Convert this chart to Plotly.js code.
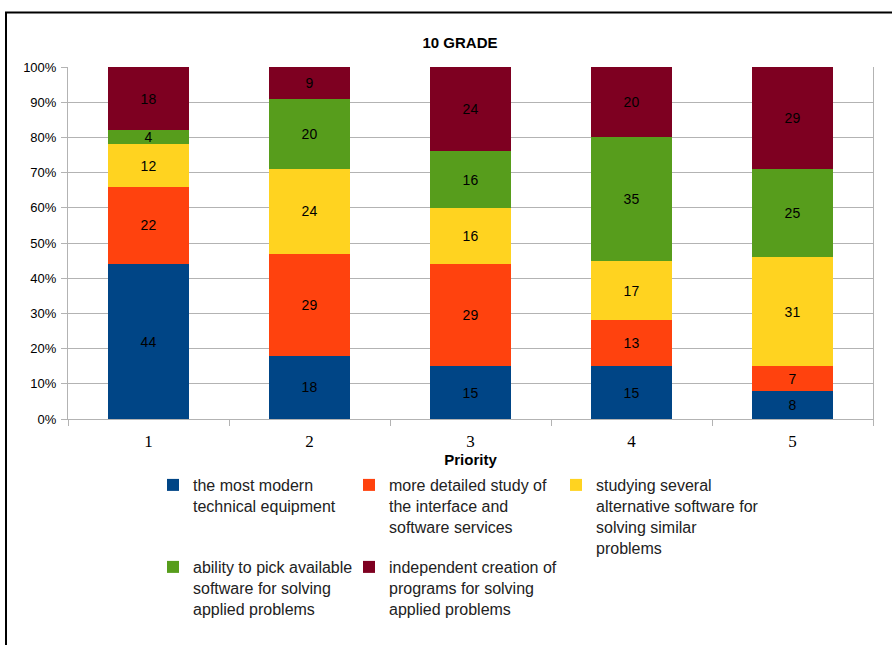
<!DOCTYPE html>
<html>
<head>
<meta charset="utf-8">
<script src="https://cdn.plot.ly/plotly-3.0.1.min.js"></script>
<style>html,body{margin:0;padding:0;background:#fff;}#chart{width:892px;height:645px;}</style>
</head>
<body>
<div id="chart"></div>
<script>
var categories = ['1', '2', '3', '4', '5'];
var seriesNames = [
  'the most modern<br>technical equipment',
  'more detailed study of<br>the interface and<br>software services',
  'studying several<br>alternative software for<br>solving similar<br>problems',
  'ability to pick available<br>software for solving<br>applied problems',
  'independent creation of<br>programs for solving<br>applied problems'
];
var modernEquipment = [44, 18, 15, 15, 8];
var detailedStudy = [22, 29, 29, 13, 7];
var severalSoftware = [12, 24, 16, 17, 31];
var pickSoftware = [4, 20, 16, 35, 25];
var independentCreation = [18, 9, 24, 20, 29];
var seriesValues = [modernEquipment, detailedStudy, severalSoftware, pickSoftware, independentCreation];
var colors = ['#004586', '#ff420e', '#ffd320', '#579d1c', '#7e0021'];
var legendRefs = ['legend', 'legend2', 'legend3', 'legend4', 'legend5'];

var traces = seriesValues.map(function(vals, i) {
  return {
    type: 'bar',
    x: categories,
    y: vals,
    name: seriesNames[i],
    showlegend: true,
    marker: {color: colors[i], line: {width: 0}},
    text: vals.map(String),
    textposition: 'inside',
    insidetextanchor: 'middle',
    textangle: 0,
    constraintext: 'none',
    textfont: {family: 'Liberation Sans, Arial, sans-serif', size: 14, color: '#000'},
    legend: legendRefs[i],
    hoverinfo: 'x+y+name'
  };
});

var L = 68, R = 873, T = 67, B = 419;
function px2x(p) { return (p - L) / (R - L); }
function px2y(p) { return (B - p) / (B - T); }

var legendFont = {family: 'Liberation Sans, Arial, sans-serif', size: 16, color: '#222'};
function makeLegend(leftPx, topPx) {
  return {
    visible: true,
    orientation: 'v',
    x: px2x(leftPx), xanchor: 'left',
    y: px2y(topPx), yanchor: 'top',
    valign: 'top',
    font: legendFont,
    bgcolor: 'rgba(0,0,0,0)',
    borderwidth: 0
  };
}

var layout = {
  width: 892,
  height: 645,
  showlegend: true,
  margin: {l: L, r: 892 - R, t: T, b: 645 - B},
  paper_bgcolor: '#fff',
  plot_bgcolor: '#fff',
  barmode: 'stack',
  bargap: 0.5,
  uniformtext: {minsize: 14, mode: 'show'},
  title: {
    text: '<b>10 GRADE</b>',
    font: {family: 'Liberation Sans, Arial, sans-serif', size: 15, color: '#000'},
    x: 460 / 892, xref: 'container', xanchor: 'center',
    y: 1 - 43 / 645, yref: 'container', yanchor: 'middle'
  },
  xaxis: {
    type: 'category',
    tickson: 'boundaries',
    ticks: 'outside',
    ticklen: 6,
    tickcolor: '#b3b3b3',
    ticklabelstandoff: 7,
    showgrid: false,
    showline: true,
    linecolor: '#b3b3b3',
    linewidth: 1,
    mirror: false,
    tickfont: {family: 'Liberation Serif, Times New Roman, serif', size: 17, color: '#000'},
    title: {
      text: '<b>Priority</b>',
      font: {family: 'Liberation Sans, Arial, sans-serif', size: 15, color: '#000'},
      standoff: 4
    }
  },
  yaxis: {
    range: [0, 100],
    dtick: 10,
    ticksuffix: '%',
    ticks: 'outside',
    ticklen: 6,
    tickcolor: '#b3b3b3',
    ticklabelstandoff: 2,
    showgrid: true,
    gridcolor: '#b3b3b3',
    gridwidth: 1,
    showline: true,
    linecolor: '#b3b3b3',
    linewidth: 1,
    mirror: true,
    zeroline: false,
    tickfont: {family: 'Liberation Sans, Arial, sans-serif', size: 13, color: '#000'}
  },
  legend: makeLegend(153, 468),
  legend2: makeLegend(349, 468),
  legend3: makeLegend(556, 468),
  legend4: makeLegend(153, 550),
  legend5: makeLegend(349, 550),
  shapes: [{
    type: 'rect',
    xref: 'paper', yref: 'paper',
    x0: px2x(6), x1: px2x(900),
    y0: px2y(660), y1: px2y(12.5),
    line: {color: '#000', width: 2},
    fillcolor: 'rgba(0,0,0,0)',
    layer: 'below'
  }]
};

Plotly.newPlot('chart', traces, layout, {displayModeBar: false, staticPlot: true});
</script>
</body>
</html>
